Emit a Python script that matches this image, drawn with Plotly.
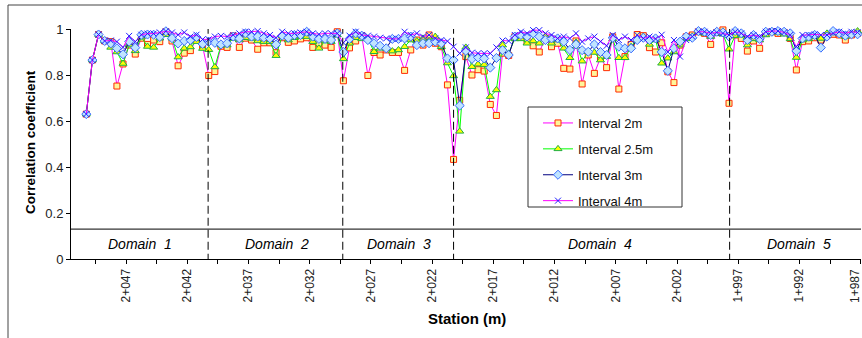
import plotly.graph_objects as go

# ---------------- data ----------------
# stations (m), one reading every 0.5 m from 2+050.25 down to 1+987.25
stations = [2050.25 - 0.5 * i for i in range(127)]

interval_2m = [
    0.63, 0.865, 0.976, 0.948, 0.945, 0.752, 0.848, 0.93, 0.891, 0.96,
    0.933, 0.952, 0.945, 0.988, 0.948, 0.84, 0.895, 0.906, 0.955, 0.925,
    0.798, 0.815, 0.925, 0.92, 0.97, 0.92, 0.96, 0.952, 0.912, 0.94,
    0.94, 0.897, 0.962, 0.942, 0.948, 0.957, 0.962, 0.92, 0.938, 0.93,
    0.92, 0.988, 0.775, 0.918, 0.948, 0.971, 0.798, 0.898, 0.887, 0.909,
    0.898, 0.898, 0.82, 0.909, 0.952, 0.93, 0.974, 0.938, 0.923, 0.757,
    0.433, 0.69, 0.88, 0.80, 0.823, 0.817, 0.672, 0.624, 0.895, 0.885,
    0.966, 0.966, 0.948, 0.927, 0.90, 0.959, 0.923, 0.938, 0.829, 0.826,
    0.948, 0.761, 0.887, 0.807, 0.875, 0.832, 0.966, 0.739, 0.88, 0.933,
    0.976, 0.971, 0.919, 0.90, 0.94, 0.814, 0.767, 0.93, 0.966, 0.974,
    0.988, 0.981, 0.933, 0.985, 0.996, 0.677, 0.974, 0.959, 0.904, 0.948,
    0.916, 0.981, 0.988, 0.981, 0.985, 0.959, 0.822, 0.945, 0.948, 0.962,
    0.952, 0.971, 0.977, 0.974, 0.952, 0.974, 0.981,
]
interval_2_5m = [
    0.63, 0.865, 0.976, 0.948, 0.92, 0.90, 0.85, 0.93, 0.905, 0.965,
    0.924, 0.92, 0.96, 0.975, 0.96, 0.878, 0.916, 0.922, 0.945, 0.915,
    0.91, 0.835, 0.93, 0.93, 0.959, 0.952, 0.962, 0.959, 0.948, 0.945,
    0.945, 0.884, 0.971, 0.952, 0.962, 0.967, 0.967, 0.945, 0.916, 0.948,
    0.945, 0.974, 0.87, 0.938, 0.962, 0.957, 0.959, 0.901, 0.916, 0.916,
    0.904, 0.909, 0.923, 0.952, 0.948, 0.959, 0.948, 0.967, 0.923, 0.852,
    0.796, 0.555, 0.92, 0.836, 0.847, 0.845, 0.706, 0.735, 0.93, 0.894,
    0.957, 0.957, 0.938, 0.948, 0.938, 0.967, 0.938, 0.952, 0.916, 0.875,
    0.942, 0.86, 0.901, 0.898, 0.865, 0.88, 0.957, 0.875, 0.875, 0.923,
    0.957, 0.967, 0.933, 0.952, 0.851, 0.873, 0.90, 0.93, 0.957, 0.967,
    0.988, 0.981, 0.967, 0.981, 0.977, 0.912, 0.971, 0.974, 0.93, 0.957,
    0.952, 0.974, 0.988, 0.985, 0.977, 0.957, 0.876, 0.952, 0.957, 0.967,
    0.959, 0.981, 0.985, 0.985, 0.967, 0.981, 0.991,
]
interval_3m = [
    0.63, 0.865, 0.976, 0.948, 0.937, 0.916, 0.89, 0.945, 0.919, 0.975,
    0.976, 0.975, 0.965, 0.99, 0.96, 0.937, 0.948, 0.952, 0.965, 0.935,
    0.945, 0.94, 0.933, 0.938, 0.967, 0.959, 0.981, 0.967, 0.967, 0.962,
    0.959, 0.933, 0.971, 0.962, 0.974, 0.974, 0.988, 0.967, 0.957, 0.957,
    0.952, 0.981, 0.90, 0.957, 0.981, 0.971, 0.952, 0.938, 0.927, 0.916,
    0.957, 0.957, 0.959, 0.967, 0.93, 0.938, 0.938, 0.945, 0.938, 0.872,
    0.865, 0.667, 0.905, 0.87, 0.876, 0.872, 0.832, 0.874, 0.908, 0.887,
    0.967, 0.974, 0.967, 0.981, 0.967, 0.952, 0.959, 0.959, 0.945, 0.909,
    0.933, 0.908, 0.901, 0.933, 0.90, 0.887, 0.962, 0.923, 0.916, 0.916,
    0.952, 0.962, 0.952, 0.959, 0.90, 0.818, 0.916, 0.945, 0.967, 0.962,
    0.991, 0.988, 0.974, 0.988, 0.985, 0.967, 0.991, 0.981, 0.952, 0.974,
    0.957, 0.988, 0.988, 0.991, 0.988, 0.981, 0.905, 0.959, 0.967, 0.974,
    0.919, 0.967, 0.991, 0.981, 0.971, 0.977, 0.977,
]
interval_4m = [
    0.63, 0.865, 0.976, 0.948, 0.95, 0.945, 0.92, 0.97, 0.945, 0.975,
    0.98, 0.98, 0.985, 0.99, 0.985, 0.975, 0.985, 0.967, 0.975, 0.955,
    0.955, 0.967, 0.97, 0.967, 0.974, 0.981, 0.988, 0.988, 0.991, 0.981,
    0.974, 0.962, 0.988, 0.981, 0.981, 0.985, 0.988, 0.981, 0.977, 0.981,
    0.981, 0.981, 0.94, 0.971, 0.988, 0.974, 0.971, 0.967, 0.962, 0.959,
    0.957, 0.957, 0.988, 0.974, 0.981, 0.967, 0.974, 0.959, 0.952, 0.947,
    0.923, 0.894, 0.92, 0.897, 0.894, 0.894, 0.894, 0.92, 0.95, 0.948,
    0.974, 0.988, 0.981, 0.995, 0.995, 0.981, 0.974, 0.959, 0.967, 0.959,
    0.981, 0.945, 0.959, 0.967, 0.945, 0.927, 0.974, 0.952, 0.967, 0.952,
    0.974, 0.959, 0.967, 0.957, 0.975, 0.90, 0.952, 0.88, 0.952, 0.967,
    0.988, 0.988, 0.981, 0.985, 0.981, 0.974, 0.988, 0.981, 0.967, 0.974,
    0.967, 0.988, 0.991, 0.991, 0.985, 0.974, 0.923, 0.974, 0.974, 0.977,
    0.974, 0.974, 0.981, 0.988, 0.981, 0.988, 0.985,
]

tick_stations = [2047, 2042, 2037, 2032, 2027, 2022, 2017, 2012, 2007, 2002, 1997, 1992, 1987]
tick_labels = ["2+047", "2+042", "2+037", "2+032", "2+027", "2+022", "2+017",
               "2+012", "2+007", "2+002", "1+997", "1+992", "1+987"]

domain_bounds = [2040.3, 2029.3, 2020.25, 1997.7]
domain_names = ["Domain\u00a0\u00a01", "Domain\u00a0\u00a02", "Domain\u00a0\u00a03",
                "Domain\u00a0\u00a04", "Domain\u00a0\u00a05"]
domain_label_pos = [2045.87, 2034.68, 2024.72, 2008.32, 1992.0]
domain_floor = 0.13

# ---------------- figure ----------------
FONT = "Liberation Sans, Arial, sans-serif"
W, H = 862, 338
ML, MR, MT, MB = 71, 1, 29, 79
PW, PH = W - ML - MR, H - MT - MB


def px_x(px):
    return (px - ML) / PW


def px_y(py):
    return (H - MB - py) / PH


series = [
    ("Interval 2m", interval_2m, "#FF00FF",
     dict(symbol="square", size=6, color="#FFF59A", line=dict(color="#FF2A00", width=1))),
    ("Interval 2.5m", interval_2_5m, "#00FF00",
     dict(symbol="triangle-up", size=7, color="#FFFF00", line=dict(color="#20B040", width=1))),
    ("Interval 3m", interval_3m, "#000080",
     dict(symbol="diamond", size=7, color="#BFE4FF", line=dict(color="#3A6CFF", width=1))),
    ("Interval 4m", interval_4m, "#FF00FF",
     dict(symbol="x-thin", size=6, color="#2020FF", line=dict(color="#2020FF", width=1))),
]

fig = go.Figure()
for i, (name, vals, lc, mk) in enumerate(series):
    fig.add_trace(go.Scatter(
        x=stations, y=vals, name=name, mode="lines+markers",
        line=dict(color=lc, width=1), marker=mk, cliponaxis=False,
        legendgroup=f"g{i}",
    ))

shapes = []
# floor line separating the domain labels
shapes.append(dict(type="line", xref="paper", yref="y", x0=0, x1=1,
                   y0=domain_floor, y1=domain_floor, line=dict(color="black", width=1)))
for b in domain_bounds:
    shapes.append(dict(type="line", xref="x", yref="y", x0=b, x1=b, y0=-0.012, y1=1.025,
                       line=dict(color="black", width=1, dash="8px,4px")))
# outer frame (top and left)
shapes.append(dict(type="line", xref="paper", yref="paper", x0=px_x(8), x1=px_x(863),
                   y0=px_y(5), y1=px_y(5), line=dict(color="#444", width=1)))
shapes.append(dict(type="line", xref="paper", yref="paper", x0=px_x(8), x1=px_x(8),
                   y0=px_y(5), y1=px_y(340), line=dict(color="#444", width=1)))
# legend box
shapes.append(dict(type="rect", xref="paper", yref="paper", layer="above",
                   x0=px_x(528), x1=px_x(682), y0=px_y(207), y1=px_y(107),
                   fillcolor="white", line=dict(color="#333333", width=1)))

annotations = []
for name, pos in zip(domain_names, domain_label_pos):
    annotations.append(dict(x=pos, y=0.066, xref="x", yref="y", text=name, showarrow=False,
                            font=dict(family=FONT, size=14, color="black", style="italic"),
                            xanchor="center", yanchor="middle"))
annotations.append(dict(x=px_x(30), y=px_y(142), xref="paper", yref="paper",
                        text="<b>Correlation coefficient</b>", textangle=-90, showarrow=False,
                        font=dict(family=FONT, size=13.5, color="black"),
                        xanchor="center", yanchor="middle"))
annotations.append(dict(x=px_x(467), y=px_y(318), xref="paper", yref="paper",
                        text="<b>Station (m)</b>", showarrow=False,
                        font=dict(family=FONT, size=15, color="black"),
                        xanchor="center", yanchor="middle"))

# x ticks every 2.5 m, labelled every 5 m; the last label sits at the right edge,
# so it is drawn as a rotated annotation nudged just inside the figure
all_tickvals = []
all_ticktext = []
for s, lab in zip(tick_stations, tick_labels):
    all_tickvals.append(s + 2.5)
    all_ticktext.append("")
    all_tickvals.append(s)
    all_ticktext.append(lab if s != tick_stations[-1] else "")
annotations.append(dict(x=px_x(855), y=px_y(267), xref="paper", yref="paper",
                        text=tick_labels[-1], textangle=-90, showarrow=False,
                        font=dict(family=FONT, size=12, color="#222"),
                        xanchor="center", yanchor="top"))

fig.update_layout(
    width=W, height=H,
    margin=dict(l=ML, r=MR, t=MT, b=MB, autoexpand=False),
    paper_bgcolor="white", plot_bgcolor="white",
    font=dict(family=FONT, size=12, color="black"),
    showlegend=True,
    legend=dict(x=px_x(538), y=px_y(108), xanchor="left", yanchor="top",
                bgcolor="rgba(0,0,0,0)", borderwidth=0,
                font=dict(family=FONT, size=13, color="#111"),
                traceorder="grouped", tracegroupgap=6, itemwidth=30),
    shapes=shapes,
    annotations=annotations,
    xaxis=dict(range=[2051.5, 1986.97], showgrid=False, zeroline=False,
               showline=True, linecolor="black", linewidth=1,
               ticks="outside", ticklen=4, tickcolor="black",
               tickmode="array", tickvals=all_tickvals, ticktext=all_ticktext,
               automargin=False,
               tickangle=-90, tickfont=dict(family=FONT, size=12, color="#222")),
    yaxis=dict(range=[0, 1], showgrid=False, zeroline=False,
               showline=True, linecolor="black", linewidth=1,
               ticks="outside", ticklen=4, tickcolor="black", automargin=False,
               tickmode="array", tickvals=[0, 0.2, 0.4, 0.6, 0.8, 1],
               ticktext=["0", "0.2", "0.4", "0.6", "0.8", "1"],
               tickfont=dict(family=FONT, size=13, color="#222")),
)

fig.write_html("out.html", config={"displayModeBar": False},
               post_script="document.body.style.margin='0px';")
